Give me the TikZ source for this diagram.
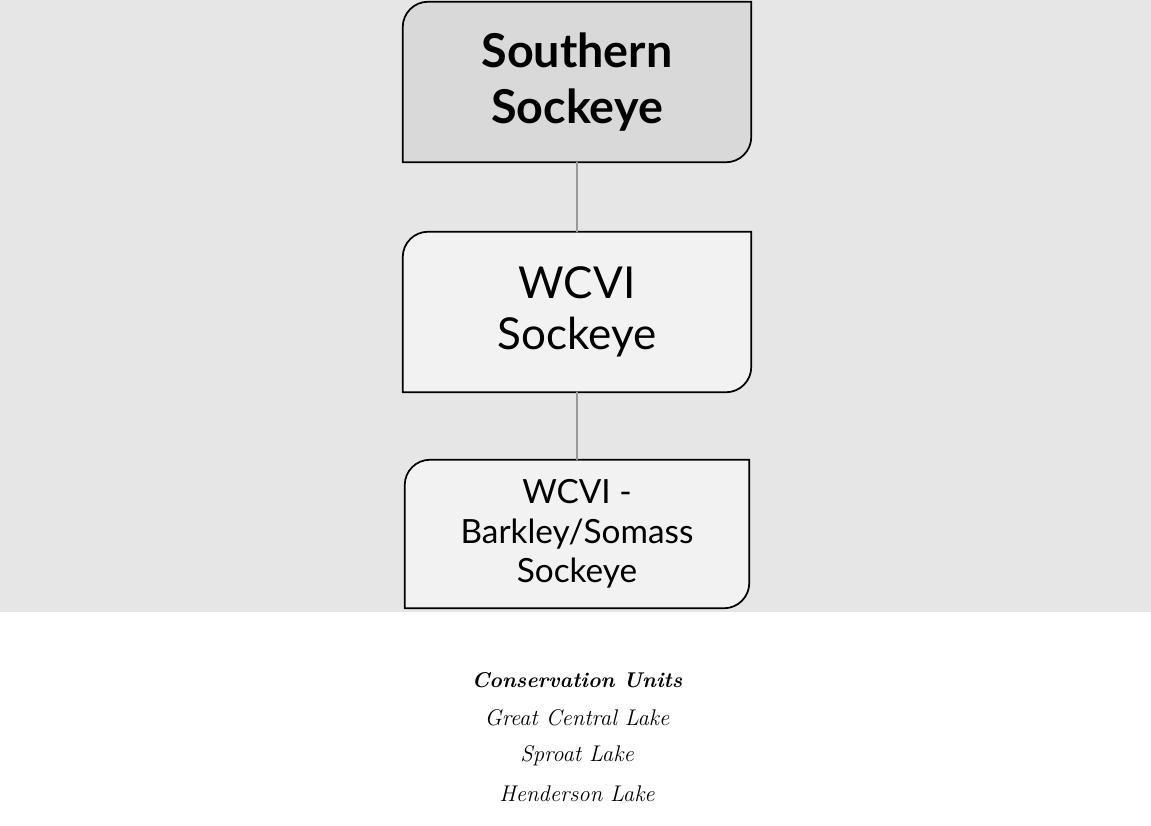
\documentclass[tikz,border=0pt]{standalone}
\usepackage{fontspec}
\setsansfont{Lato}
\usepackage{tikz}
\usetikzlibrary{
    backgrounds
}
\definecolor{ink}      {HTML}{000000}
\definecolor{panelbg}  {HTML}{E6E6E6}
\definecolor{topfill}  {HTML}{D9D9D9}
\definecolor{boxfill}  {HTML}{F2F2F2}
\definecolor{linkgray} {HTML}{999999}

\begin{document}
\begin{tikzpicture}[
    x=0.75pt, y=-0.75pt,
    line cap=round, line join=round,
    %% --- semantic styles ---
    unitbox/.style    = {rectangle, inner sep=4pt, align=center,
                         font=\sffamily, text=ink},
    boxline/.style    = {draw=ink, line width=1.3pt},
    link/.style       = {draw=linkgray, line width=1.5pt},
    cunote/.style     = {font=\fontsize{17}{20}\selectfont\itshape, text=ink}
]
\useasboundingbox (0,0) rectangle (1151,825);

%% =====================================================
%% HIERARCHY — three stacked groupings
%% =====================================================
\node[unitbox, minimum width=261pt, minimum height=120pt,
      font=\sffamily\bfseries\fontsize{35}{42}\selectfont] (SS) at (577, 82)
    {Southern\\Sockeye};
\node[unitbox, minimum width=261pt, minimum height=120pt,
      font=\sffamily\fontsize{33}{38}\selectfont] (WS) at (577, 312)
    {WCVI\\Sockeye};
\node[unitbox, minimum width=258pt, minimum height=111pt,
      font=\sffamily\fontsize{25}{29.5}\selectfont] (BS) at (577, 534)
    {WCVI -\\Barkley/Somass\\Sockeye};

% Panel and box outlines (cut corners top-left / bottom-right)
\begin{scope}[on background layer]
    \fill[panelbg] (0,0) rectangle (1151,612);
    \foreach \N/\F in {SS/topfill, WS/boxfill, BS/boxfill}
        \draw[boxline, fill=\F] (\N.south west)
            [rounded corners=19pt] -- (\N.north west)
            [sharp corners] -- (\N.north east)
            [rounded corners=19pt] -- (\N.south east)
            [sharp corners] -- cycle;
\end{scope}

\draw[link] (SS.south) -- (WS.north);
\draw[link] (WS.south) -- (BS.north);

%% =====================================================
%% Conservation units list
%% =====================================================
\node[cunote, font=\fontsize{16}{19}\selectfont\itshape\bfseries] (CU) at (577, 680)
    {Conservation Units};
\node[cunote] (GCL) at (577, 718) {Great Central Lake};
\node[cunote] (SPL) at (577, 756) {Sproat Lake};
\node[cunote] (HDL) at (577, 794) {Henderson Lake};

\end{tikzpicture}
\end{document}
